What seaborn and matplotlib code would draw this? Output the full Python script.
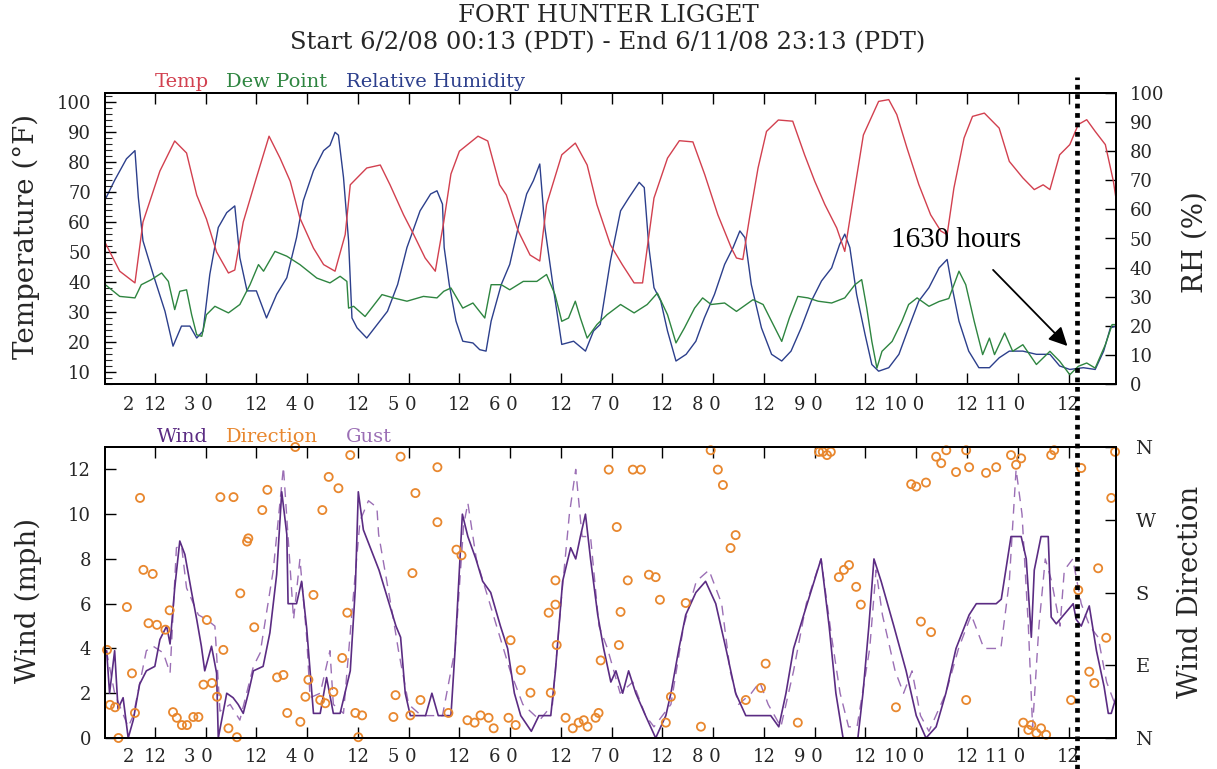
import matplotlib
matplotlib.use("Agg")
import matplotlib.pyplot as plt
import matplotlib.transforms as mtransforms
from matplotlib.lines import Line2D
from matplotlib.ticker import MultipleLocator
import numpy as np
import pandas as pd
import seaborn as sns

# ---------------- DATA (hours since 6/2/08 00:00 PDT) ----------------
temp_hours = [0.3, 3.7, 7.3, 9.2, 13.2, 16.7, 19.5, 21.9, 24.2, 26.6, 29.4, 30.9, 32.9, 36.0, 39.0,
              41.6, 44.0, 46.3, 49.5, 51.9, 54.6, 57.0, 58.2, 59.8, 62.1, 65.3, 67.6, 70.8, 73.2,
              75.9, 78.3, 80.3, 82.0, 84.0, 88.4, 90.7, 93.5, 95.1, 97.9, 100.7, 103.0, 104.6, 108.2,
              111.4, 114.2, 116.5, 119.7, 122.5, 125.3, 127.3, 128.4, 130.0, 133.2, 136.0, 139.2,
              142.0, 145.1, 148.3, 149.5, 151.0, 152.7, 154.6, 156.6, 159.4, 162.8, 165.6, 168.0,
              170.4, 173.2, 175.1, 177.1, 179.5, 183.1, 185.5, 187.4, 189.8, 192.6, 195.4, 197.8,
              199.3, 200.9, 203.3, 205.3, 208.1, 211.6, 214.0, 217.2, 219.9, 222.0, 223.6, 225.9,
              228.3, 230.3, 232.3, 234.3, 236.7, 238.6, 239.2]
temp_vals = [53, 43.6, 39.7, 60, 77, 87, 83, 69, 61, 50, 43, 44, 60, 74.7, 88.6,
             81.3, 73.6, 61.3, 51.3, 45.8, 43.6, 55.8, 72.4, 74.7, 78, 79, 72.4, 62.4, 55.8,
             48, 43.6, 60, 76, 83.6, 88.6, 87, 72.4, 69, 57, 49, 47, 65.8, 82.4,
             86.3, 79, 65.8, 52.4, 45.8, 39.7, 39.7, 51.3, 68, 81.3, 87.1, 86.7,
             75.8, 62.4, 51.3, 48, 47.5, 62.4, 78, 90.2, 94, 93.6, 82.4, 73.6,
             65.8, 58, 50.2, 68, 89, 100.2, 100.8, 95.8, 84.7, 72.5, 62.4, 57,
             55.8, 71.3, 88, 95.2, 96.3, 91.3, 80.2, 74.7, 70.8, 72.4, 70.8, 82.4,
             85.8, 92.5, 94.1, 90.2, 85.8, 73.6, 68]

dew_hours = [0.3, 3.7, 7.3, 8.8, 11.2, 13.6, 15.2, 16.7, 17.9, 19.5, 20.7, 21.9, 23.1, 24.2, 26.2,
             29.4, 32.1, 34.5, 36.5, 37.7, 40.4, 43.2, 46.3, 50.3, 53.4, 55.8, 57.4, 57.8, 59.0,
             61.7, 65.7, 68.4, 71.6, 75.5, 78.7, 80.3, 82.0, 84.8, 87.2, 90.0, 91.5, 93.9, 95.9,
             99.1, 102.3, 104.6, 106.6, 108.2, 109.8, 111.4, 112.6, 114.2, 116.5, 118.9, 122.1,
             125.3, 128.4, 130.8, 133.2, 135.2, 137.2, 139.6, 141.5, 143.5, 146.7, 149.5, 153.4,
             155.8, 157.4, 160.2, 162.0, 164.0, 166.4, 168.8, 172.0, 175.1, 177.5, 179.1, 180.3,
             181.5, 182.7, 183.9, 186.3, 188.6, 190.2, 192.2, 195.0, 197.4, 199.7, 202.1, 203.7,
             205.7, 207.7, 209.3, 210.5, 212.9, 214.8, 217.2, 220.4, 223.6, 225.9, 228.3, 230.3,
             232.3, 234.3, 236.7, 238.3, 239.2]
dew_vals = [39.1, 35.2, 34.7, 39.1, 40.8, 43, 40.2, 30.8, 36.9, 37.4, 29.1, 22.4, 21.9, 29.1, 31.9,
            29.7, 32.5, 39.1, 45.8, 43.6, 50.2, 48.6, 45.8, 41.3, 39.7, 41.9, 40.2, 31.3, 31.9,
            28.5, 35.8, 34.7, 33.6, 35.2, 34.7, 36.9, 38, 31.3, 33, 28, 39.1, 39.1, 37.4,
            40.2, 40.2, 42.5, 35.8, 26.9, 28, 33.6, 28, 21.3, 25.8, 29.1, 32.5,
            29.7, 32.5, 36.3, 29.1, 19.7, 24.7, 31.3, 34.7, 32.5, 33, 30.2, 34.1,
            32.5, 28, 20.2, 28, 35.2, 34.7, 33.6, 33, 34.7, 39.1, 40.8, 31.3,
            20.2, 11.3, 16.9, 20.2, 26.9, 32.5, 34.7, 31.9, 33.5, 34.5, 43.6, 39.1,
            26.9, 15.8, 21.3, 15.8, 23, 16.9, 19.1, 12.5, 16.9, 13.6, 9.1, 11.9,
            13, 11.3, 19.1, 25.8, 25.8]

rh_hours = [0.3, 2.5, 5.3, 7.3, 8.1, 9.2, 11.6, 14.4, 16.3, 18.3, 20.3, 21.9, 23.4, 25.0, 27.0,
            29.0, 30.9, 32.1, 33.8, 36.0, 38.4, 40.8, 43.2, 45.5, 47.1, 49.5, 51.9, 53.4, 54.6,
            55.4, 56.6, 57.8, 58.6, 59.8, 62.1, 64.6, 67.0, 69.4, 71.6, 74.7, 77.2, 78.7, 80.0,
            80.4, 81.6, 83.2, 84.8, 87.2, 88.8, 90.3, 91.5, 93.9, 95.9, 97.9, 99.9, 101.5, 103.0,
            104.2, 106.2, 108.2, 111.0, 113.8, 115.7, 117.3, 119.7, 122.1, 124.1, 126.5, 127.7,
            128.8, 130.0, 131.6, 133.2, 135.2, 137.6, 139.9, 141.9, 144.3, 146.7, 148.7, 150.3,
            151.5, 153.0, 155.4, 157.8, 160.2, 162.4, 164.8, 167.2, 169.6, 172.0, 173.9, 175.1,
            176.3, 177.9, 179.9, 181.5, 183.1, 185.5, 187.9, 190.2, 192.6, 195.0, 197.4, 199.3,
            200.5, 202.1, 204.4, 206.8, 209.3, 211.6, 214.0, 217.2, 220.4, 223.6, 225.9, 228.3,
            231.5, 234.3, 236.3, 237.9, 239.2]
rh_vals = [63.5, 70, 77.4, 80.2, 64.1, 49.2, 37.7, 25, 13, 19.9, 19.9, 15.8, 18.2, 37.7, 53.8,
           58.9, 61.2, 43.4, 32, 32, 22.7, 30.8, 36.5, 50.3, 63, 73.3, 80.2, 82, 86.5,
           85.5, 71, 49.2, 22.7, 19.3, 15.8, 20.5, 25, 34.2, 46.9, 59.5, 65.3, 66.4, 61.8,
           46.9, 34.2, 21.6, 14.7, 14.1, 11.8, 11.3, 21.6, 34.2, 41.1, 53.8, 65.3, 69.9, 75.6,
           53.8, 33.1, 13.6, 14.7, 11.3, 18.2, 20.5, 42.3, 59.5, 64.1, 69.3, 67.5,
           46.9, 33.1, 28.5, 18.2, 7.9, 10.2, 14.7, 22.7, 30.8, 41.1, 46.9, 52.6,
           50.3, 34.2, 19.3, 10.2, 7.9, 11.3, 19.3, 28.5, 35.4, 39.9, 48, 51.5,
           46.9, 30.8, 17, 6.7, 4.4, 5.6, 10.2, 19.3, 28.5, 33.1, 39.9, 42.8,
           33.1, 21.6, 11.3, 5.6, 5.6, 9, 11.3, 11.3, 10.2, 10.2, 6.2, 5,
           5.6, 5, 11.3, 19.3, 19.9]

wind_hours = [0.6, 1.3, 2.5, 3.3, 4.5, 5.7, 6.9, 8.4, 10.0, 12.0, 13.2, 14.8, 15.6, 16.7, 17.9,
              19.1, 20.7, 21.9, 23.0, 23.8, 25.4, 26.6, 27.0, 27.8, 29.0, 30.5, 31.7, 32.9, 34.1,
              35.3, 37.6, 39.2, 40.8, 42.0, 43.2, 43.5, 45.5, 46.7, 47.9, 49.5, 51.1, 52.6, 54.2,
              55.8, 58.2, 59.4, 60.1, 61.3, 65.0, 69.0, 70.1, 71.2, 72.4, 76.0, 77.5, 79.0, 82.0,
              83.0, 84.7, 86.0, 87.9, 89.5, 91.4, 93.7, 95.4, 97.0, 98.5, 101.0, 102.8, 104.0,
              105.6, 106.7, 108.4, 110.3, 111.5, 112.6, 113.8, 115.0, 116.7, 118.1, 119.8, 121.0,
              122.6, 124.0, 125.7, 128.0, 130.4, 132.8, 134.0, 135.9, 137.5, 139.9, 142.2, 144.6,
              147.0, 149.3, 151.7, 157.6, 159.5, 161.2, 163.0, 165.4, 169.5, 171.4, 173.0, 174.7,
              178.2, 179.4, 180.8, 182.0, 183.7, 186.7, 189.6, 192.0, 194.3, 196.7, 199.0, 201.4,
              204.5, 206.2, 210.9, 212.1, 214.4, 216.8, 218.0, 219.2, 219.9, 221.5, 223.2, 223.9,
              225.1, 229.1, 229.8, 231.0, 232.9, 234.6, 236.4, 237.4, 238.1, 239.2]
wind_vals = [3.9, 2.0, 3.9, 1.3, 1.8, 0.0, 0.8, 2.4, 3.0, 3.2, 4.4, 5.0, 4.2, 6.7, 8.8,
             8.2, 6.5, 5.3, 4.1, 3.0, 4.1, 2.9, 0.0, 0.8, 2.0, 1.8, 1.5, 1.1, 2.0,
             3.0, 3.2, 4.7, 7.3, 11.0, 9.1, 6.0, 6.0, 7.0, 4.9, 1.1, 1.1, 2.7, 1.1,
             1.1, 3.0, 6.7, 11.0, 9.3, 7.5, 5.0, 4.5, 2.0, 1.0, 1.0, 2.0, 1.0, 1.0,
             4.0, 10.0, 9.0, 8.0, 7.0, 6.5, 5.0, 4.0, 2.0, 1.0, 0.3, 1.0, 1.0,
             1.0, 3.0, 7.0, 8.5, 8.0, 9.0, 10.0, 8.0, 5.5, 4.0, 2.5, 3.0,
             2.0, 3.0, 2.0, 1.0, 0.0, 1.0, 2.0, 4.0, 5.5, 6.5, 7.0, 6.0,
             4.0, 2.0, 1.0, 1.0, 0.5, 2.0, 4.0, 5.5, 8.0, 5.0, 2.0, 0.0,
             0.0, 2.0, 5.0, 8.0, 7.0, 5.0, 3.0, 1.0, 0.0, 0.5, 2.0, 4.0,
             5.5, 6.0, 6.0, 6.2, 9.0, 9.0, 8.0, 4.5, 7.5, 9.0, 9.0, 5.4,
             5.1, 6.0, 5.3, 5.0, 5.9, 3.9, 2.3, 1.1, 1.1, 1.8]

gust_hours = [0.55, 2.5, 5.7, 6.9, 10.0, 11.6, 14.0, 15.6, 17.1, 18.3, 19.5, 22.3, 24.2, 26.2,
              27.4, 29.8, 32.1, 35.3, 36.9, 40.0, 42.4, 44.8, 46.3, 47.9, 48.7, 51.1, 53.4, 54.2,
              56.6, 59.0, 60.5, 62.5, 64.5, 64.9, 68.4, 69.6, 72.0, 75.0, 80.0, 83.0, 85.0, 86.0,
              88.0, 92.0, 96.0, 99.0, 103.0, 106.0, 108.0, 110.0, 111.5, 113.0, 115.0, 117.0,
              119.0, 122.0, 125.0, 128.0, 130.0, 134.0, 137.0, 140.0, 143.0, 146.0, 148.0, 150.0,
              153.0, 155.0, 157.0, 160.0, 163.0, 166.0, 169.5, 172.0, 174.0, 176.0, 178.0, 181.0,
              182.5, 184.0, 187.0, 189.0, 191.0, 193.0, 195.0, 199.0, 202.0, 205.0, 208.0, 212.0,
              214.0, 215.6, 217.0, 218.5, 219.5, 221.0, 222.5, 224.0, 226.0, 227.0, 229.0, 231.0,
              233.0, 235.0, 237.0, 239.0]
gust_vals = [3.9, 2.0, 0.5, 1.0, 3.9, 4.1, 3.8, 2.9, 8.5, 8.6, 6.7, 5.5, 5.3, 5.0,
             1.2, 1.5, 0.8, 3.2, 3.8, 7.5, 12.1, 5.3, 8.0, 4.5, 1.8, 2.0, 3.9, 1.5,
             1.1, 6.5, 9.7, 10.6, 10.3, 9.1, 5.3, 3.9, 1.5, 1.0, 1.0, 4.0, 9.5, 10.5,
             8.0, 5.5, 3.0, 1.5, 0.8, 1.5, 6.0, 10.0, 12.0, 9.0, 9.0, 5.0,
             4.0, 2.0, 2.5, 1.0, 0.5, 1.5, 5.0, 7.0, 7.5, 6.0, 3.0, 1.5,
             2.0, 2.5, 1.5, 0.5, 3.0, 6.0, 8.0, 4.5, 2.0, 0.5, 0.5, 4.0,
             7.5, 5.5, 3.0, 2.0, 3.0, 1.0, 0.3, 2.0, 4.0, 5.5, 4.0, 4.0,
             7.0, 12.0, 10.0, 5.0, 0.5, 5.0, 8.0, 7.0, 5.0, 7.5, 8.0, 6.0,
             5.0, 4.5, 2.5, 1.5]

dir_hours = [0.7, 1.4, 2.6, 3.4, 5.4, 6.6, 7.3, 8.5, 9.3, 10.5, 11.5, 12.5, 14.5, 15.5, 16.3,
             17.2, 18.4, 19.6, 21.1, 22.3, 23.5, 24.3, 25.5, 26.7, 27.5, 28.2, 29.4, 30.6, 31.4,
             32.2, 33.8, 34.1, 35.5, 37.4, 38.6, 40.9, 42.4, 43.3, 45.2, 46.4, 47.6, 48.3, 49.5,
             51.1, 51.6, 52.3, 53.1, 54.2, 55.4, 56.3, 57.5, 58.2, 59.4, 60.1, 61.0, 68.4, 68.9,
             70.1, 72.4, 72.9, 73.6, 74.8, 78.8, 78.8, 81.4, 83.3, 84.5, 85.9, 87.6, 89.0, 90.9,
             92.1, 95.6, 96.1, 97.3, 98.5, 100.8, 105.1, 105.6, 106.7, 106.7, 107.0, 109.1, 110.8,
             112.2, 113.4, 114.3, 116.2, 116.9, 117.4, 119.3, 121.2, 121.7, 122.1, 123.8, 125.0,
             126.9, 128.8, 130.4, 131.4, 132.8, 134.0, 137.5, 141.1, 143.4, 145.1, 146.3, 148.1,
             149.3, 151.7, 155.3, 156.4, 164.0, 169.0, 169.9, 170.9, 171.8, 173.7, 174.9, 176.1,
             177.8, 178.9, 187.2, 190.8, 192.0, 193.1, 194.3, 195.5, 196.7, 197.9, 199.1, 201.4,
             203.8, 204.5, 203.8, 208.5, 210.9, 214.4, 215.6, 216.8, 217.3, 218.5, 219.2, 220.4,
             221.5, 222.7, 223.9, 224.6, 228.6, 230.3, 231.0, 232.9, 234.1, 235.0, 236.9, 238.1,
             239.0]
dir_vals = [109, 41, 38, 0, 162, 80, 31, 297, 208, 142, 203, 140, 134, 158, 32,
            25, 16, 16, 26, 26, 66, 146, 68, 51, 298, 109, 12, 298, 1,
            179, 243, 247, 137, 282, 307, 75, 78, 31, 360, 20, 51, 72, 177,
            47, 282, 43, 323, 57, 309, 99, 155, 350, 31, 1, 28, 26, 53,
            348, 28, 204, 303, 47, 335, 267, 31, 233, 226, 22, 19, 28, 25,
            12, 25, 121, 16, 84, 56, 155, 56, 195, 165, 115, 25, 12,
            19, 22, 14, 25, 31, 96, 332, 261, 115, 156, 195, 332,
            332, 202, 199, 171, 19, 51, 167, 14, 356, 332, 313, 235,
            251, 47, 62, 92, 19, 354, 354, 350, 354, 199, 208, 214,
            187, 165, 38, 314, 311, 144, 316, 131, 348, 340, 356, 329,
            356, 335, 47, 328, 335, 350, 338, 346, 19, 10, 16, 6,
            12, 4, 350, 356, 47, 183, 334, 82, 68, 210, 124, 297,
            354]

day_labels = ["3", "4", "5", "6", "7", "8", "9", "10", "11"]
compass_labels = ["N", "E", "S", "W", "N"]
title_lines = ["FORT HUNTER LIGGET", "Start 6/2/08 00:13 (PDT) - End 6/11/08 23:13 (PDT)"]
event_hour = 230.0

# ---------------- STYLE ----------------
sns.set_theme(style="white")
plt.rcParams["font.family"] = ["DejaVu Serif"]
plt.rcParams["axes.linewidth"] = 1.4

C_TEMP, C_DEW, C_RH = "#d2404f", "#2e8540", "#2c3f8c"
C_WIND, C_DIR, C_GUST = "#5b2c83", "#e8872e", "#9b6fb5"

W, H = 1217, 769
fig = plt.figure(figsize=(W / 100, H / 100), dpi=100)
fig.patch.set_facecolor("white")

def box(x0, y0, x1, y1):
    return [x0 / W, 1 - y1 / H, (x1 - x0) / W, (y1 - y0) / H]

ax1 = fig.add_axes(box(105, 93, 1116, 384))
ax2 = fig.add_axes(box(105, 447, 1116, 738))
ax1r = ax1.twinx()
ax2r = ax2.twinx()

XMIN, XMAX = 0.22, 239.22
tick_fs = 13

# ---- top panel ----
sns.lineplot(x=temp_hours, y=temp_vals, ax=ax1, color=C_TEMP, lw=1.0, estimator=None, sort=False)
sns.lineplot(x=dew_hours, y=dew_vals, ax=ax1, color=C_DEW, lw=1.0, estimator=None, sort=False)
sns.lineplot(x=rh_hours, y=rh_vals, ax=ax1r, color=C_RH, lw=1.0, estimator=None, sort=False)
ax1.set_ylim(6, 103)
ax1r.set_ylim(0, 100)
ax1.set_yticks(range(10, 101, 10))
ax1.yaxis.set_minor_locator(MultipleLocator(2))
ax1r.set_yticks(range(0, 101, 10))

# ---- bottom panel ----
df_dir = pd.DataFrame({"hour": dir_hours, "deg": dir_vals})
sns.lineplot(x=gust_hours, y=gust_vals, ax=ax2, color=C_GUST, lw=1.0, estimator=None, sort=False,
             dashes=False, linestyle=(0, (7, 5)))
sns.lineplot(x=wind_hours, y=wind_vals, ax=ax2, color=C_WIND, lw=1.2, estimator=None, sort=False)
sns.scatterplot(data=df_dir, x="hour", y="deg", ax=ax2r, marker="o", s=34,
                facecolors="none", edgecolor=C_DIR, linewidth=1.3, clip_on=False)
ax2.set_ylim(0, 13)
ax2r.set_ylim(0, 360)
ax2.set_yticks(range(0, 13, 2))
ax2r.set_yticks([0, 90, 180, 270, 360])
ax2r.set_yticklabels(compass_labels)

xticks = list(range(12, 229, 12))
for a in (ax1, ax2, ax1r, ax2r):
    a.set_xlim(XMIN, XMAX)
    a.set_xlabel("")
    a.set_ylabel("")
    a.grid(False)
    for s in a.spines.values():
        s.set_color("black")
        s.set_linewidth(1.4)
for a in (ax1, ax2):
    a.set_xticks(xticks)
    a.set_xticklabels([])
    a.tick_params(axis="x", which="major", direction="in", length=8, width=1.0,
                  top=True, bottom=True, color="black")
    a.tick_params(axis="y", which="major", direction="in", length=8, width=1.0,
                  left=True, right=False, labelsize=tick_fs, pad=10, color="black")
    a.set_zorder(2)
    a.patch.set_visible(False)
ax1.tick_params(axis="y", which="minor", direction="in", length=5, width=0.8, left=True, right=False)
for a in (ax1r, ax2r):
    a.tick_params(axis="y", direction="in", length=8, width=1.0, right=True, left=False,
                  labelsize=tick_fs, pad=10, color="black")
    a.tick_params(axis="x", bottom=False, top=False, labelbottom=False)
    a.set_zorder(1)
ax2r.tick_params(axis="y", pad=14, labelsize=14)
ax2r.set_zorder(3)

# x tick labels: "12" at noon, "<day> 0" at midnight
for a, yfrac in ((ax1, -0.072), (ax2, -0.066)):
    tr = mtransforms.blended_transform_factory(a.transData, a.transAxes)
    a.text(5.7, yfrac, "2", transform=tr, ha="center", va="center", fontsize=tick_fs, clip_on=False)
    for h in xticks:
        if h % 24 == 12:
            a.text(h, yfrac, "12", transform=tr, ha="center", va="center", fontsize=tick_fs)
        else:
            a.text(h + 1.8, yfrac, f"{day_labels[h // 24 - 1]} 0", transform=tr,
                   ha="right", va="center", fontsize=tick_fs)

# titles / labels
fig.text(608 / W, 1 - 16 / H, title_lines[0], ha="center", va="center", fontsize=17.5)
fig.text(608 / W, 1 - 43 / H, title_lines[1], ha="center", va="center", fontsize=17.5)

def legend_row(items, y):
    for x, txt, col in items:
        fig.text(x / W, 1 - y / H, txt, color=col, ha="left", va="center", fontsize=14)

legend_row([(155, "Temp", C_TEMP), (226, "Dew Point", C_DEW), (346, "Relative Humidity", C_RH)], 82)
legend_row([(157, "Wind", C_WIND), (226, "Direction", C_DIR), (346, "Gust", C_GUST)], 437)

fig.text(26 / W, 1 - 236 / H, "Temperature (°F)", rotation=90, ha="center", va="center", fontsize=20)
fig.text(1195 / W, 1 - 242 / H, "RH (%)", rotation=90, ha="center", va="center", fontsize=20)
fig.text(28 / W, 1 - 600 / H, "Wind (mph)", rotation=90, ha="center", va="center", fontsize=20)
fig.text(1190 / W, 1 - 592 / H, "Wind Direction", rotation=90, ha="center", va="center", fontsize=20)

# annotation
ax1.text(201.4, 54, "1630 hours", ha="center", va="center", fontsize=21,
         family="Liberation Serif", color="black", zorder=6)
ax1.annotate("", xy=(228.2, 18), xytext=(209.7, 44.7),
             arrowprops=dict(arrowstyle="-|>", color="black", lw=1.3, mutation_scale=28), zorder=6)

# dotted event line spanning both panels
fig.canvas.draw()
xd = ax1.transData.transform((event_hour, 0))[0] / fig.bbox.width
fig.add_artist(Line2D([xd, xd], [0.0, 1 - 77 / H], transform=fig.transFigure, color="black",
                      lw=3.4, linestyle=(0, (1, 1)), dash_capstyle="butt", zorder=10))

fig.savefig("out.png", dpi=100, facecolor="white")
